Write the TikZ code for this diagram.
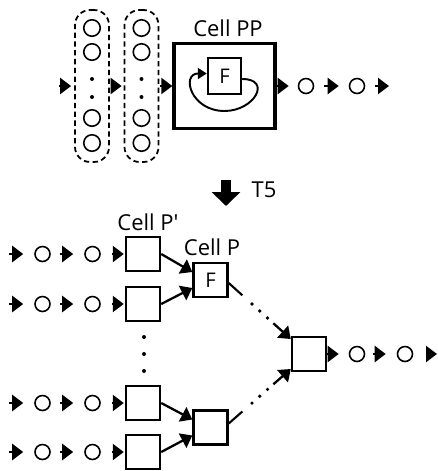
\documentclass[tikz,border=0pt]{standalone}
\usepackage{fontspec}
\setmainfont{Open Sans}
\usetikzlibrary{arrows.meta,positioning,calc}

\tikzset{
  flowtip/.tip={Triangle[length=0.22cm, width=0.32cm]},
  looptip/.tip={Triangle[length=0.18cm, width=0.22cm]}
}

\begin{document}
\begin{tikzpicture}[x=0.02cm, y=-0.02cm,
  ring/.style={draw, circle, line width=0.9pt, minimum size=0.3cm, inner sep=0pt},
  cellbox/.style={draw, line width=1.4pt, minimum width=0.68cm, minimum height=0.68cm, inner sep=0pt, font=\fontsize{11.5}{13}\selectfont},
  column/.style={draw, dash pattern=on 3pt off 2pt, line width=1pt, rounded corners=0.3cm, minimum width=0.68cm, minimum height=3.04cm},
  celltitle/.style={font=\fontsize{12.5}{14}\selectfont, anchor=base, inner sep=0pt},
  dotdot/.style={fill, circle, inner sep=0pt, minimum size=0.08cm},
  flow/.style={line width=1.3pt, arrows={-flowtip}},
  link/.style={line width=1.2pt}]
  \useasboundingbox (0,0) rectangle (438,471);

  %--- Cell PP with input columns ---
  \node[column] (colA) at (92,86) {};
  \node[column] (colB) at (141.5,86) {};
  \foreach \cx/\cn in {92/A,141.5/B} {
    \foreach \cy [count=\k] in {28,52,118,143}
      \node[ring, minimum size=0.33cm] (ring\cn\k) at (\cx,\cy) {};
    \foreach \cy [count=\k] in {79,97}
      \node[dotdot] (dot\cn\k) at (\cx,\cy) {};
  }

  % Cell PP
  \node[celltitle] (lblPP) at (228,36) {Cell PP};
  \node[draw, line width=1.9pt, minimum width=2.02cm, minimum height=1.7cm] (cellPP) at (224.5,86) {};
  \node[cellbox, minimum width=0.66cm, minimum height=0.72cm] (fTop) at (224.5,76) {F};
  \coordinate (loopBot) at (224.5,111);
  \draw[line width=1.1pt, arrows={-looptip}] ([yshift=-0.06cm]fTop.east) .. controls +(30,0) and +(30,0) .. (loopBot) .. controls +(-34,0) and +(-26,0) .. ([yshift=0.05cm]fTop.west);

  % output sequence
  \coordinate (inTop) at (59,86);
  \node[ring] (outA) at (306,86) {};
  \node[ring] (outB) at (357,86) {};
  \coordinate (endTop) at (389,86);

  \draw[flow, shorten >=0.06cm] (inTop) -- (colA);
  \draw[flow, shorten <=0.04cm, shorten >=0.04cm] (colA) -- (colB);
  \draw[flow, shorten <=0.02cm] (colB) -- (cellPP);
  \draw[flow, shorten >=0.18cm] (cellPP) -- (outA);
  \draw[flow, shorten <=0.2cm, shorten >=0.2cm] (outA) -- (outB);
  \draw[flow, shorten <=0.2cm] (outB) -- (endTop);

  %--- T5 ---
  \coordinate (t5top) at (226,180);
  \coordinate (t5bot) at (226,206);
  \draw[line width=0.22cm, -{Triangle[length=0.28cm, width=0.56cm]}] (t5top) -- (t5bot);
  \node[celltitle] (lblT5) at (264,197) {T5};

  %--- Cell P' rows ---
  \node[celltitle] (lblPp) at (148,230) {Cell P\textquotesingle};
  \foreach \r/\ry in {1/254,2/304,3/403,4/452} {
    \coordinate (in\r) at (9,\ry);
    \node[ring] (a\r) at (42.5,\ry) {};
    \node[ring] (b\r) at (92.5,\ry) {};
    \node[cellbox] (pp\r) at (143,\ry) {};
    \draw[flow, shorten >=0.22cm] (in\r) -- (a\r);
    \draw[flow, shorten <=0.18cm, shorten >=0.22cm] (a\r) -- (b\r);
    \draw[flow, shorten <=0.22cm, shorten >=0.02cm] (b\r) -- (pp\r);
  }
  \foreach \dy [count=\k] in {337,354,371}
    \node[dotdot] (vdot\k) at (144,\dy) {};

  % Cell P and merge
  \node[celltitle] (lblP) at (212,255) {Cell P};
  \node[cellbox] (cellP) at (210.5,280) {F};
  \node[cellbox] (cellQ) at (210.5,427.5) {};
  \node[cellbox] (cellOut) at (309,354) {};

  \draw[flow] (pp1.east) -- ([yshift=0.16cm]cellP.west);
  \draw[flow] (pp2.east) -- ([yshift=-0.16cm]cellP.west);
  \draw[flow] (pp3.east) -- ([yshift=0.16cm]cellQ.west);
  \draw[flow] (pp4.east) -- ([yshift=-0.16cm]cellQ.west);

  % dotted links to last cell
  \coordinate (pOut) at ([yshift=-0.06cm]cellP.east);
  \coordinate (qOut) at ([yshift=0.08cm]cellQ.east);
  \coordinate (outIn1) at ([yshift=0.3cm]cellOut.west);
  \coordinate (outIn2) at ([yshift=-0.3cm]cellOut.west);
  \foreach \s/\t in {pOut/outIn1,qOut/outIn2} {
    \draw[link] (\s) -- ($(\s)!0.22!(\t)$);
    \foreach \f in {0.375,0.5,0.625}
      \fill ($(\s)!\f!(\t)$) circle (1.8);
    \draw[flow] ($(\s)!0.72!(\t)$) -- (\t);
  }

  % output sequence
  \node[ring] (outC) at (357,354) {};
  \node[ring] (outD) at (405,354) {};
  \coordinate (endBot) at (437,354);
  \draw[flow, shorten >=0.2cm] (cellOut) -- (outC);
  \draw[flow, shorten <=0.16cm, shorten >=0.22cm] (outC) -- (outD);
  \draw[flow, shorten <=0.26cm] (outD) -- (endBot);
\end{tikzpicture}
\end{document}
